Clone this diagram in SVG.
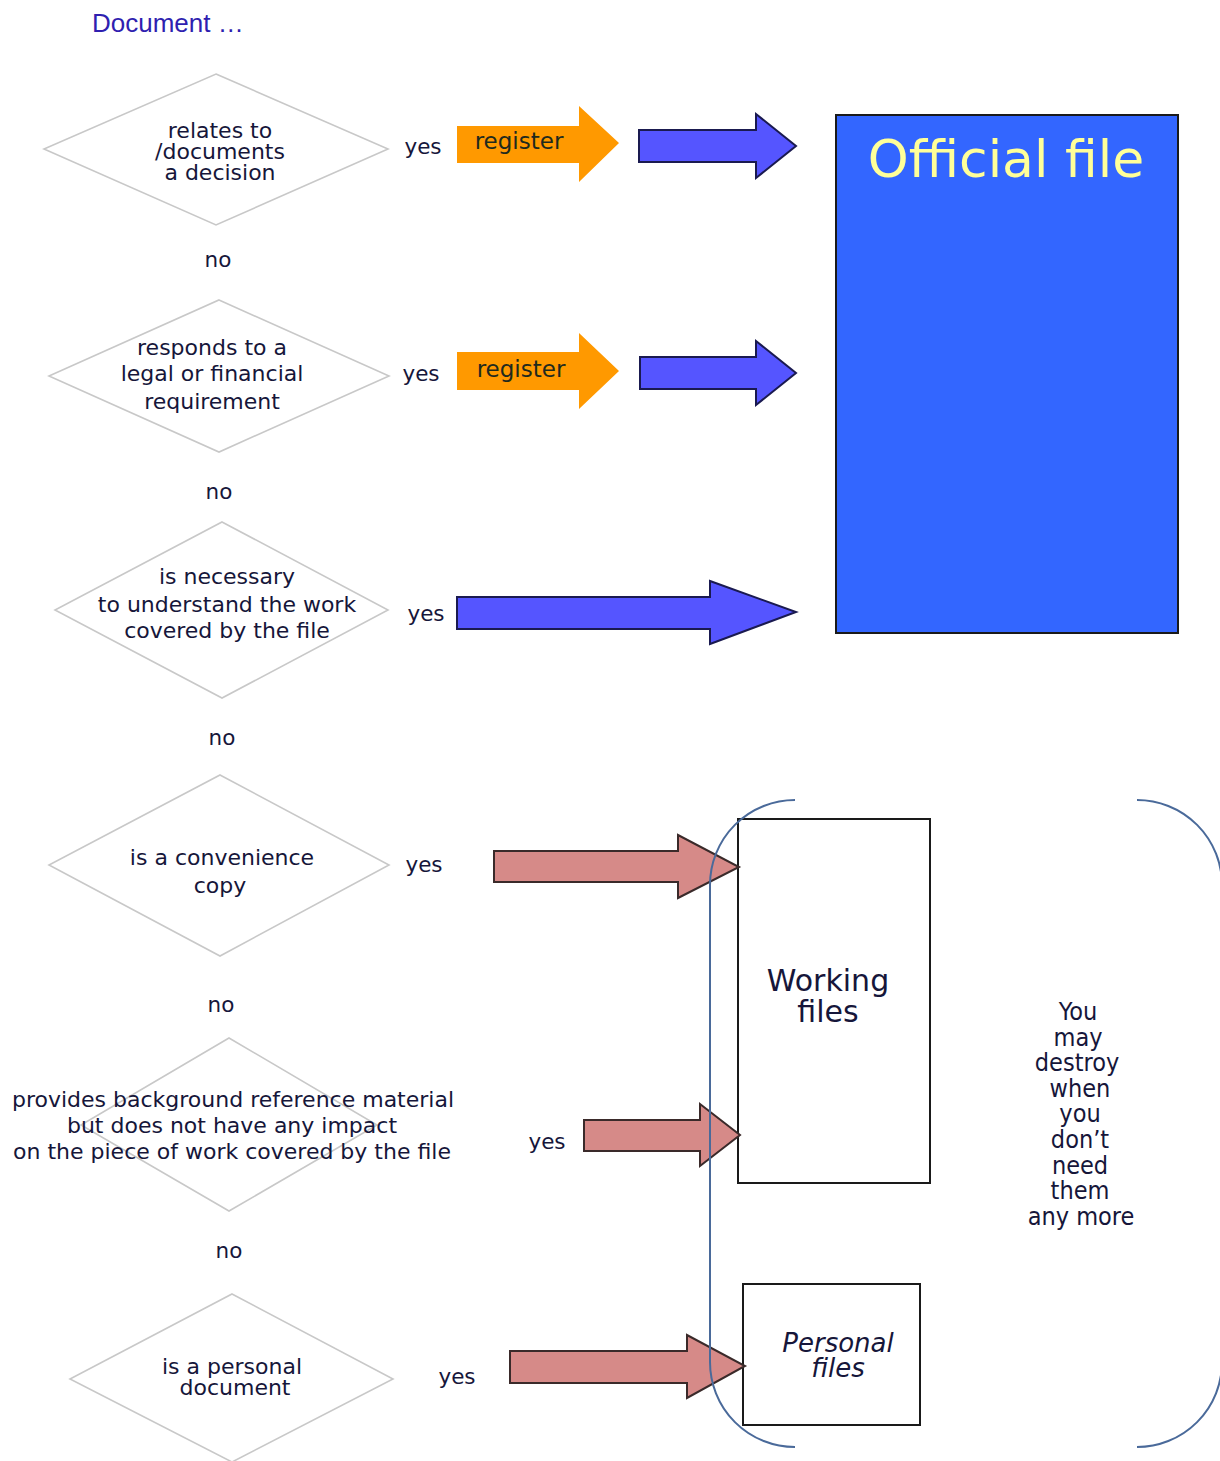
<svg xmlns="http://www.w3.org/2000/svg" width="1220" height="1461" viewBox="0 0 1220 1461">
  <style>
    .q { fill: #ffffff; stroke: #c8c8c8; stroke-width: 1.6; }
    .t { font-family: "DejaVu Sans", Verdana, sans-serif; font-size: 22px; fill: #16163a; text-anchor: middle; }
    .lbl { font-family: "DejaVu Sans", Verdana, sans-serif; font-size: 21.5px; fill: #16163a; text-anchor: middle; }
    .reg { font-family: "DejaVu Sans", Verdana, sans-serif; font-size: 23px; fill: #1e2a1e; text-anchor: middle; }
    .orange { fill: #ff9900; }
    .blue { fill: #5555ff; stroke: #1a1a50; stroke-width: 2; stroke-linejoin: miter; }
    .pink { fill: #d68a88; stroke: #3a2a2a; stroke-width: 2; }
    .box { fill: #ffffff; stroke: #1a1a1a; stroke-width: 2; }
    .brace { fill: none; stroke: #4a6a9a; stroke-width: 2; }
    .note { font-family: "DejaVu Sans Condensed", "DejaVu Sans", sans-serif; font-size: 25px; fill: #16163a; text-anchor: middle; }
  </style>

  <!-- heading -->
  <text x="92" y="32" font-family="Liberation Sans, Arial, sans-serif" font-size="26" fill="#2f1fb0">Document …</text>

  <!-- decision nodes -->
  <g id="q-decision">
    <polygon class="q" points="216,74 388,149 216,225 44,149"/>
    <text class="t" x="220" y="138">relates to</text>
    <text class="t" x="220" y="159">/documents</text>
    <text class="t" x="220" y="180">a decision</text>
  </g>
  <g id="q-legal">
    <polygon class="q" points="219,300 389,376 219,452 49,376"/>
    <text class="t" x="212" y="355">responds to a</text>
    <text class="t" x="212" y="381">legal or financial</text>
    <text class="t" x="212" y="409">requirement</text>
  </g>
  <g id="q-necessary">
    <polygon class="q" points="222,522 388,610 222,698 55,610"/>
    <text class="t" x="227" y="584">is necessary</text>
    <text class="t" x="227" y="612">to understand the work</text>
    <text class="t" x="227" y="638">covered by the file</text>
  </g>
  <g id="q-convenience">
    <polygon class="q" points="220,775 389,865 220,956 49,865"/>
    <text class="t" x="222" y="865">is a convenience</text>
    <text class="t" x="220" y="893">copy</text>
  </g>
  <g id="q-background">
    <polygon class="q" points="229,1038 377,1125 229,1211 81,1125"/>
    <text class="t" x="233" y="1107">provides background reference material</text>
    <text class="t" x="232" y="1133">but does not have any impact</text>
    <text class="t" x="232" y="1159">on the piece of work covered by the file</text>
  </g>
  <g id="q-personal">
    <polygon class="q" points="232,1294 393,1379 232,1462 70,1379"/>
    <text class="t" x="232" y="1374">is a personal</text>
    <text class="t" x="235" y="1395">document</text>
  </g>

  <!-- destinations -->
  <g id="official-file">
    <rect x="836" y="115" width="342" height="518" fill="#3366ff" stroke="#1a1a1a" stroke-width="2"/>
    <text x="1006" y="177" font-family="DejaVu Sans, Verdana, sans-serif" font-size="52" fill="#ffff99" text-anchor="middle">Official file</text>
  </g>
  <g id="working-files">
    <rect class="box" x="738" y="819" width="192" height="364"/>
    <text x="828" y="991" font-family="DejaVu Sans, Verdana, sans-serif" font-size="30" fill="#16163a" text-anchor="middle">Working</text>
    <text x="828" y="1022" font-family="DejaVu Sans, Verdana, sans-serif" font-size="30" fill="#16163a" text-anchor="middle">files</text>
  </g>
  <g id="personal-files">
    <rect class="box" x="743" y="1284" width="177" height="141" stroke="#333"/>
    <text x="838" y="1352" font-family="DejaVu Sans, Verdana, sans-serif" font-style="italic" font-size="26" fill="#16163a" text-anchor="middle">Personal</text>
    <text x="838" y="1377" font-family="DejaVu Sans, Verdana, sans-serif" font-style="italic" font-size="26" fill="#16163a" text-anchor="middle">files</text>
  </g>

  <!-- connectors: block arrows with their yes / no labels -->
  <g id="connectors">
    <polygon class="orange" points="457,126 579,126 579,106 619,143 579,182 579,163 457,163"/>
    <text class="reg" x="519" y="149">register</text>
    <polygon class="blue" points="639,130 756,130 756,114 796,146 756,178 756,162 639,162"/>

    <polygon class="orange" points="457,352 579,352 579,333 619,371 579,409 579,390 457,390"/>
    <text class="reg" x="521" y="377">register</text>
    <polygon class="blue" points="640,357 756,357 756,341 796,373 756,405 756,389 640,389"/>

    <polygon class="blue" points="457,597 710,597 710,581 796,612 710,644 710,629 457,629"/>

    <polygon class="pink" points="494,851 678,851 678,835 739,867 678,898 678,882 494,882"/>
    <polygon class="pink" points="584,1120 700,1120 700,1104 740,1135 700,1166 700,1151 584,1151"/>
    <polygon class="pink" points="510,1351 687,1351 687,1335 745,1366 687,1398 687,1383 510,1383"/>

    <text class="lbl" x="423" y="154">yes</text>
    <text class="lbl" x="218" y="267">no</text>
    <text class="lbl" x="421" y="381">yes</text>
    <text class="lbl" x="219" y="499">no</text>
    <text class="lbl" x="426" y="621">yes</text>
    <text class="lbl" x="222" y="745">no</text>
    <text class="lbl" x="424" y="872">yes</text>
    <text class="lbl" x="221" y="1012">no</text>
    <text class="lbl" x="547" y="1149">yes</text>
    <text class="lbl" x="229" y="1258">no</text>
    <text class="lbl" x="457" y="1384">yes</text>
  </g>

  <!-- bracket around the disposable files and its note -->
  <g id="disposable">
    <path class="brace" d="M795,800 A85,85 0 0 0 710,885 L710,1362 A85,85 0 0 0 795,1447"/>
    <path class="brace" d="M1137,800 A85,85 0 0 1 1222,885 L1222,1362 A85,85 0 0 1 1137,1447"/>
    <text class="note" x="1078" y="1020">You</text>
    <text class="note" x="1078" y="1046">may</text>
    <text class="note" x="1077" y="1071">destroy</text>
    <text class="note" x="1080" y="1097">when</text>
    <text class="note" x="1080" y="1122">you</text>
    <text class="note" x="1080" y="1148">don’t</text>
    <text class="note" x="1080" y="1174">need</text>
    <text class="note" x="1080" y="1199">them</text>
    <text class="note" x="1081" y="1225">any more</text>
  </g>
</svg>
